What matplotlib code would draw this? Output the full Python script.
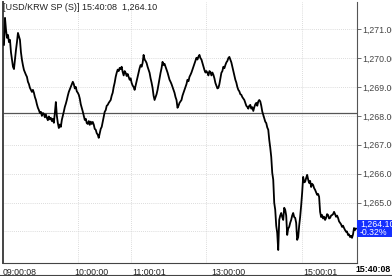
import numpy as np
import matplotlib
matplotlib.use("Agg")
import matplotlib.pyplot as plt
from matplotlib.transforms import offset_copy

# USD/KRW spot, one value per tick column
prices = [
    1270.46, 1271.39, 1270.98, 1270.70, 1270.80, 1270.55, 1270.63, 1270.20, 1269.94, 1269.70,
    1269.62, 1269.95, 1270.28, 1270.55, 1270.87, 1270.75, 1270.63, 1270.20, 1269.94, 1269.75,
    1269.59, 1269.50, 1269.42, 1269.35, 1269.18, 1269.10, 1268.97, 1268.90, 1268.83, 1268.90,
    1268.80, 1268.65, 1268.55, 1268.40, 1268.28, 1268.20, 1268.10, 1268.14, 1268.00, 1268.10,
    1268.07, 1267.95, 1268.05, 1267.93, 1267.85, 1267.98, 1267.88, 1267.93, 1267.82, 1267.90,
    1267.76, 1268.10, 1268.48, 1268.00, 1267.75, 1267.58, 1267.70, 1267.62, 1267.86, 1268.00,
    1268.15, 1268.31, 1268.42, 1268.55, 1268.70, 1268.83, 1268.92, 1269.00, 1269.10, 1269.18,
    1269.10, 1268.95, 1269.00, 1268.85, 1268.80, 1268.73, 1268.60, 1268.40, 1268.28, 1268.15,
    1268.00, 1267.86, 1267.90, 1267.75, 1267.72, 1267.82, 1267.69, 1267.80, 1267.72, 1267.79,
    1267.70, 1267.55, 1267.52, 1267.40, 1267.35, 1267.24, 1267.40, 1267.55, 1267.62, 1267.80,
    1268.00, 1268.14, 1268.20, 1268.35, 1268.38, 1268.45, 1268.50, 1268.55, 1268.70, 1268.80,
    1269.00, 1269.15, 1269.35, 1269.49, 1269.60, 1269.55, 1269.66, 1269.62, 1269.70, 1269.52,
    1269.40, 1269.55, 1269.49, 1269.38, 1269.45, 1269.35, 1269.25, 1269.30, 1269.14, 1269.05,
    1269.00, 1268.90, 1269.05, 1269.20, 1269.35, 1269.50, 1269.65, 1269.76, 1269.70, 1269.83,
    1270.11, 1269.95, 1269.90, 1269.83, 1269.70, 1269.60, 1269.49, 1269.30, 1269.15, 1268.97,
    1268.70, 1268.55, 1268.65, 1268.75, 1268.90, 1269.10, 1269.30, 1269.49, 1269.65, 1269.87,
    1269.76, 1269.80, 1269.70, 1269.59, 1269.50, 1269.38, 1269.25, 1269.18, 1269.10, 1269.00,
    1268.90, 1268.80, 1268.65, 1268.55, 1268.28, 1268.35, 1268.45, 1268.50, 1268.55, 1268.70,
    1268.80, 1268.90, 1269.00, 1269.10, 1269.25, 1269.20, 1269.35, 1269.42, 1269.50, 1269.60,
    1269.70, 1269.80, 1269.90, 1270.01, 1269.95, 1270.05, 1270.11, 1270.00, 1269.95, 1269.83,
    1269.70, 1269.59, 1269.50, 1269.55, 1269.49, 1269.40, 1269.55, 1269.52, 1269.40, 1269.50,
    1269.42, 1269.30, 1269.14, 1269.05, 1268.95, 1268.97, 1269.10, 1269.30, 1269.49, 1269.55,
    1269.70, 1269.65, 1269.76, 1269.85, 1269.90, 1270.00, 1270.04, 1269.95, 1269.85, 1269.70,
    1269.55, 1269.40, 1269.25, 1269.15, 1269.00, 1268.90, 1268.85, 1268.75, 1268.73, 1268.65,
    1268.60, 1268.55, 1268.45, 1268.35, 1268.31, 1268.25, 1268.35, 1268.38, 1268.25, 1268.30,
    1268.17, 1268.30, 1268.40, 1268.45, 1268.35, 1268.50, 1268.55, 1268.50, 1268.35, 1268.15,
    1268.03, 1267.90, 1267.80, 1267.75, 1267.60, 1267.52, 1267.17, 1266.90, 1266.58, 1266.03,
    1265.79, 1264.99, 1264.75, 1264.20, 1263.95, 1263.36, 1264.40, 1264.55, 1264.64, 1264.50,
    1264.40, 1264.82, 1264.75, 1264.55, 1263.88, 1264.10, 1264.16, 1264.30, 1264.40, 1264.55,
    1264.64, 1264.50, 1264.47, 1264.30, 1263.71, 1263.80, 1264.20, 1264.51, 1264.90, 1265.34,
    1265.89, 1265.70, 1265.72, 1265.85, 1265.96, 1265.80, 1265.68, 1265.75, 1265.54, 1265.65,
    1265.61, 1265.50, 1265.44, 1265.35, 1265.27, 1265.30, 1265.20, 1264.68, 1264.50, 1264.57,
    1264.45, 1264.51, 1264.40, 1264.47, 1264.60, 1264.57, 1264.45, 1264.47, 1264.55, 1264.57,
    1264.60, 1264.68, 1264.60, 1264.51, 1264.55, 1264.47, 1264.35, 1264.30, 1264.25, 1264.16,
    1264.20, 1264.12, 1264.05, 1263.99, 1264.00, 1263.88, 1263.90, 1263.81, 1263.85, 1263.78,
    1263.90, 1264.12, 1264.05, 1264.10,
]
prev_close = 1268.10
last_price = 1264.10
last_change = "-0.32%"
last_time = "15:40:08"
title = "[USD/KRW SP (S)] 15:40:08  1,264.10"

time_labels = ["09:00:08", "10:00:00", "11:00:01", "13:00:00", "15:00:01"]
time_ticks = [0, 74, 127, 203, 299]
label_shift = [-1, -4, 2, 5, 1]   # px, label start relative to its grid line
price_ticks = [1265, 1266, 1267, 1268, 1269, 1270, 1271]

FONT = "Liberation Sans"
W, H = 392, 276

fig = plt.figure(figsize=(W / 100, H / 100), dpi=100)
fig.patch.set_facecolor("white")
ax = fig.add_axes([3 / W, 13 / H, 354 / W, 261 / H])

x = np.arange(len(prices))
ax.plot(x, prices, color="black", lw=1.3, zorder=3)
ax.axhline(prev_close, color="#555555", lw=0.9, zorder=2)

ax.set_xlim(-1, len(prices))
ax.set_ylim(1262.91, 1271.94)

# dotted grid
for v in price_ticks + [1264]:
    ax.axhline(v, color="#d0d0d0", lw=0.6, ls=(0, (1, 1.5)), zorder=1)
for t in time_ticks[1:]:
    ax.axvline(t, color="#d0d0d0", lw=0.6, ls=(0, (1, 1.5)), zorder=1)

ax.set_xticks([])
ax.yaxis.tick_right()
ax.set_yticks(price_ticks)
ax.set_yticklabels([f"{v:,.2f}" for v in price_ticks], fontsize=6.3,
                   family=FONT, color="#444444")
ax.tick_params(axis="y", length=3, width=0.6, color="#555555", pad=1)

for s in ["left", "bottom"]:
    ax.spines[s].set_color("#444444")
    ax.spines[s].set_linewidth(0.8)
ax.spines["left"].set_linewidth(1.4)
ax.spines["right"].set_color("#555555")
ax.spines["right"].set_linewidth(0.8)
ax.spines["top"].set_visible(False)

# title
fig.text(3 / W, 1 - 8 / H, title, fontsize=6.5, family=FONT,
         color="#222222", va="center", ha="left")

# time labels under the plot
xt = ax.get_xaxis_transform()
for lab, t, dx in zip(time_labels, time_ticks, label_shift):
    tr = offset_copy(xt, fig=fig, x=dx * 72 / 100, y=0, units="points")
    ax.text(t, -0.02, lab, transform=tr, fontsize=6.3,
            family=FONT, color="#222222", va="top", ha="left")
fig.text(1 - 1 / W, 6 / H, last_time, fontsize=6.3, family=FONT,
         fontweight="bold", color="black", va="center", ha="right")

# bottom frame line
fig.add_artist(plt.Line2D([0, 1], [1 / H, 1 / H], color="#444444", lw=0.8))

# last price box
box = plt.Rectangle((357 / W, (H - 237) / H), 35 / W, 17 / H,
                    transform=fig.transFigure, facecolor="#1530ff",
                    edgecolor="none", zorder=5)
fig.add_artist(box)
fig.text(360 / W, (H - 224) / H, f"{last_price:,.2f}", fontsize=6.3,
         family=FONT, color="white", va="center", ha="left", zorder=6)
fig.text(360 / W, (H - 232.5) / H, last_change, fontsize=6.3,
         family=FONT, color="white", va="center", ha="left", zorder=6)

fig.savefig("out.png", dpi=100)
